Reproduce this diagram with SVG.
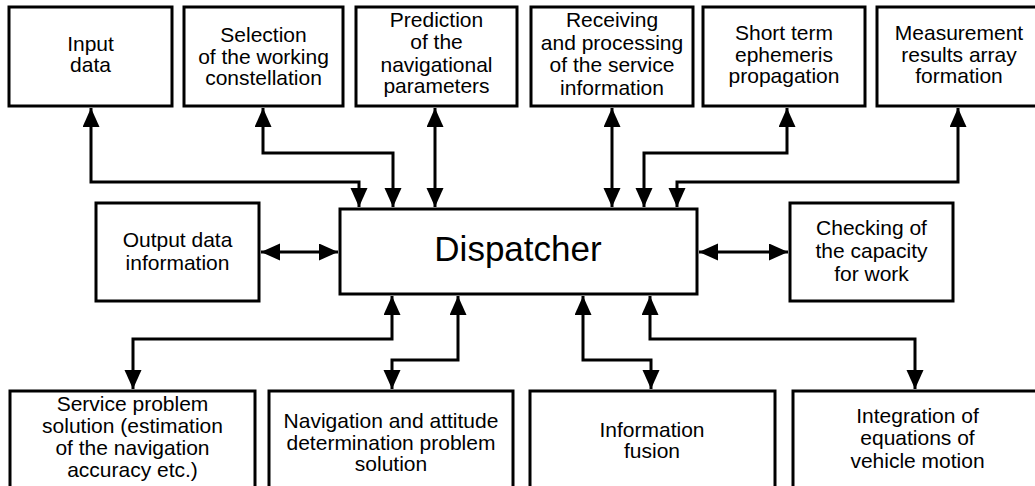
<svg xmlns="http://www.w3.org/2000/svg" width="1035" height="486" viewBox="0 0 1035 486">
<style>
.box{fill:#fff;stroke:#000;stroke-width:3}
.t{font-family:"Liberation Sans",Arial,sans-serif;font-size:21px;fill:#000;text-anchor:middle}
.big{font-size:35px}
.c{fill:none;stroke:#000;stroke-width:3;marker-start:url(#ah);marker-end:url(#ah)}
</style>
<defs>
<marker id="ah" markerUnits="userSpaceOnUse" markerWidth="20" markerHeight="18" refX="19" refY="8.5" orient="auto-start-reverse" viewBox="0 0 20 18">
<path d="M0,0 L19,8.5 L0,17 z" fill="#000"/>
</marker>
</defs>
<rect width="1035" height="486" fill="#fff"/>
<g id="connectors">
<path class="c" d="M91,108 V182 H359 V207"/>
<path class="c" d="M263,108 V153 H393 V207"/>
<path class="c" d="M435,108 V207"/>
<path class="c" d="M612,108 V207"/>
<path class="c" d="M787,108 V153 H644 V207"/>
<path class="c" d="M958,108 V182 H677 V207"/>
<path class="c" d="M261,252 H338"/>
<path class="c" d="M699,252 H788"/>
<path class="c" d="M392,296 V339 H133 V389"/>
<path class="c" d="M458,296 V360 H392 V389"/>
<path class="c" d="M583,296 V360 H651 V389"/>
<path class="c" d="M650,296 V339 H915 V389"/>
</g>
<g id="input">
<rect class="box" x="9" y="7" width="163" height="99"/>
<text class="t" x="90.5" y="51">Input</text>
<text class="t" x="90.5" y="72">data</text>
</g>
<g id="selection">
<rect class="box" x="184" y="7" width="159" height="99"/>
<text class="t" x="263.5" y="42">Selection</text>
<text class="t" x="263.5" y="63.5">of the working</text>
<text class="t" x="263.5" y="85">constellation</text>
</g>
<g id="prediction">
<rect class="box" x="356" y="7" width="161" height="99"/>
<text class="t" x="436.5" y="27">Prediction</text>
<text class="t" x="436.5" y="49">of the</text>
<text class="t" x="436.5" y="71.5">navigational</text>
<text class="t" x="436.5" y="93">parameters</text>
</g>
<g id="receiving">
<rect class="box" x="531" y="7" width="162" height="99"/>
<text class="t" x="612" y="27">Receiving</text>
<text class="t" x="612" y="50">and processing</text>
<text class="t" x="612" y="72">of the service</text>
<text class="t" x="612" y="95">information</text>
</g>
<g id="shortterm">
<rect class="box" x="703" y="7" width="162" height="99"/>
<text class="t" x="784" y="40">Short term</text>
<text class="t" x="784" y="62">ephemeris</text>
<text class="t" x="784" y="83">propagation</text>
</g>
<g id="measurement">
<rect class="box" x="877" y="7" width="165" height="99"/>
<text class="t" x="959" y="40">Measurement</text>
<text class="t" x="959" y="62">results array</text>
<text class="t" x="959" y="83">formation</text>
</g>
<g id="output">
<rect class="box" x="96" y="203" width="163" height="98"/>
<text class="t" x="177.5" y="247">Output data</text>
<text class="t" x="177.5" y="270">information</text>
</g>
<g id="dispatcher">
<rect class="box" x="340" y="209" width="357" height="85"/>
<text class="t big" x="518" y="261">Dispatcher</text>
</g>
<g id="checking">
<rect class="box" x="790" y="203" width="163" height="98"/>
<text class="t" x="871.5" y="235">Checking of</text>
<text class="t" x="871.5" y="258">the capacity</text>
<text class="t" x="871.5" y="281">for work</text>
</g>
<g id="service">
<rect class="box" x="10" y="391" width="245" height="110"/>
<text class="t" x="132.5" y="411">Service problem</text>
<text class="t" x="132.5" y="433">solution (estimation</text>
<text class="t" x="132.5" y="455">of the navigation</text>
<text class="t" x="132.5" y="477">accuracy etc.)</text>
</g>
<g id="navigation">
<rect class="box" x="269" y="391" width="244" height="110"/>
<text class="t" x="391" y="428">Navigation and attitude</text>
<text class="t" x="391" y="450">determination problem</text>
<text class="t" x="391" y="471">solution</text>
</g>
<g id="fusion">
<rect class="box" x="530" y="391" width="245" height="110"/>
<text class="t" x="652" y="437">Information</text>
<text class="t" x="652" y="458">fusion</text>
</g>
<g id="integration">
<rect class="box" x="793" y="391" width="250" height="110"/>
<text class="t" x="917.5" y="423">Integration of</text>
<text class="t" x="917.5" y="445">equations of</text>
<text class="t" x="917.5" y="468">vehicle motion</text>
</g>
</svg>
